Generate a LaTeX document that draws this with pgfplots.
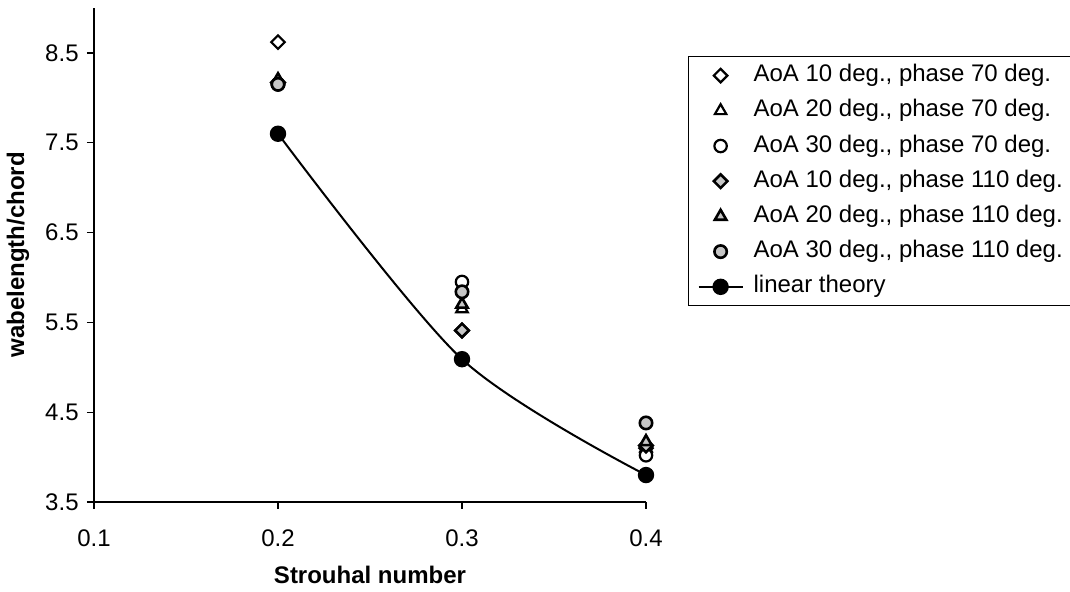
\documentclass[border=0pt]{standalone}
\usepackage{pgfplots}
\pgfplotsset{compat=1.18}
\usepackage{fontspec}
\setmainfont{Liberation Sans}
\begin{document}
\fontsize{12pt}{14.4pt}\selectfont
\begin{tikzpicture}
\path[use as bounding box] (-47pt,-45pt) rectangle (488pt,251pt);
\begin{axis}[
  at={(0pt,0pt)}, anchor=south west,
  scale only axis, width=276pt, height=247pt,
  xmin=0.1, xmax=0.4, ymin=3.5, ymax=9,
  axis lines=left, axis line style={-, line width=0.6pt},
  xtick={0.1,0.2,0.3,0.4}, ytick={3.5,4.5,5.5,6.5,7.5,8.5},
  tick align=outside, major tick length=3.5pt,
  tick style={black, line width=0.6pt},
  /pgf/number format/assume math mode=true,
  /pgf/number format/.cd, fixed, fixed zerofill, precision=1, /pgfplots/.cd,
  ticklabel style={font=\fontsize{12pt}{14.4pt}\selectfont},
  xticklabel style={yshift=-6pt},
  xlabel={\textbf{Strouhal number}},
  ylabel={\textbf{wabelength/chord}},
  every axis x label/.style={at={(axis description cs:0.5,-0.1478)}, anchor=center},
  every axis y label/.style={at={(axis description cs:-0.1377,0.5)}, anchor=center, rotate=90},
  label style={font=\fontsize{12pt}{14.4pt}\selectfont},
  clip=false,
  legend cell align=left,
  legend image code/.code={\draw[mark repeat=2,mark phase=2] plot coordinates {(0pt,0pt)(11pt,0pt)(22pt,0pt)};},
  legend style={at={(axis description cs:1.0761,0.9028)}, anchor=north west,
    draw=black, line width=0.6pt, inner xsep=4.5pt, inner ysep=3.5pt,
    nodes={inner sep=0pt, text height=9pt, text depth=3pt},
    column sep=5pt, row sep=5.6pt,
    every even column/.append style={text width=190pt, align=left},
    font=\fontsize{12pt}{14.4pt}\selectfont},
]
% phase 70 (open)
\addplot[only marks, mark=square*, mark size=2.4pt, mark options={rotate=45, fill=white, draw=black, line width=1.1pt}]
  coordinates {(0.2,8.62) (0.3,5.41) (0.4,4.10)};
\addlegendentry{AoA 10 deg., phase 70 deg.}
\addplot[only marks, mark=triangle*, mark size=3.3pt, mark options={fill=white, draw=black, line width=1.1pt}]
  coordinates {(0.2,8.18) (0.3,5.65) (0.4,4.10)};
\addlegendentry{AoA 20 deg., phase 70 deg.}
\addplot[only marks, mark=*, mark size=3.1pt, mark options={fill=white, draw=black, line width=1.1pt}]
  coordinates {(0.2,8.15) (0.3,5.95) (0.4,4.02)};
\addlegendentry{AoA 30 deg., phase 70 deg.}
% phase 110 (shaded)
\addplot[only marks, mark=square*, mark size=2.4pt, mark options={rotate=45, fill=gray!45, draw=black, line width=1.3pt}]
  coordinates {(0.2,8.17) (0.3,5.41) (0.4,4.13)};
\addlegendentry{AoA 10 deg., phase 110 deg.}
\addplot[only marks, mark=triangle*, mark size=3.3pt, mark options={fill=gray!45, draw=black, line width=1.3pt}]
  coordinates {(0.2,8.20) (0.3,5.70) (0.4,4.17)};
\addlegendentry{AoA 20 deg., phase 110 deg.}
\addplot[only marks, mark=*, mark size=3.1pt, mark options={fill=gray!45, draw=black, line width=1.3pt}]
  coordinates {(0.2,8.15) (0.3,5.84) (0.4,4.38)};
\addlegendentry{AoA 30 deg., phase 110 deg.}
% linear theory
\addplot[black, line width=1pt, smooth, mark=*, mark size=3.6pt, mark options={fill=black, draw=black}]
  coordinates {(0.2,7.6) (0.3,5.09) (0.4,3.8)};
\addlegendentry{linear theory}
\end{axis}
\end{tikzpicture}
\end{document}
